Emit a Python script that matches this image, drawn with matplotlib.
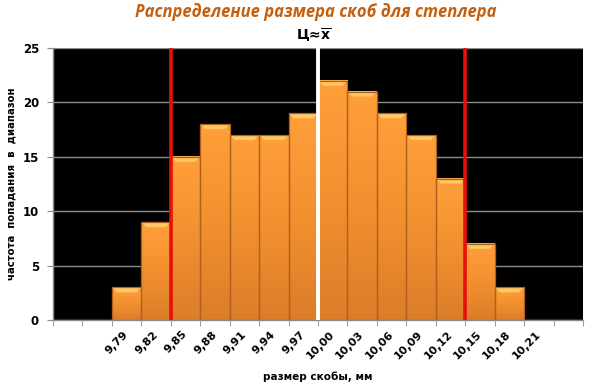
import numpy as np
import matplotlib
matplotlib.use("Agg")
import matplotlib.pyplot as plt
from matplotlib.patches import Polygon
from matplotlib.colors import LinearSegmentedColormap

# data
categories = ["", "", "9,79", "9,82", "9,85", "9,88", "9,91", "9,94", "9,97",
              "10,00", "10,03", "10,06", "10,09", "10,12", "10,15", "10,18",
              "10,21", ""]
counts = [0, 0, 3, 9, 15, 18, 17, 17, 19, 22, 21, 19, 17, 13, 7, 3, 0, 0]
limits = [4, 14]     # tolerance lines (bin boundaries)
center_line = 9      # nominal size line

plt.rcParams['font.family'] = ['DejaVu Sans']

fig = plt.figure(figsize=(5.98, 3.85), dpi=100)
ax = fig.add_axes([53/598, 1 - 320/385, 530/598, 272/385])
ax.set_facecolor('black')

n = len(categories)
x = np.arange(n)

# gridlines
ax.set_yticks(np.arange(0, 26, 5))
ax.yaxis.grid(True, color='#8c8c8c', linewidth=1)
ax.set_axisbelow(True)

# bars with vertical gradient and bevelled top
cmap = LinearSegmentedColormap.from_list('bar', ['#dc7d2a', '#f2902f', '#ff9f3a'])
grad = np.linspace(0, 1, 64).reshape(-1, 1)
dy = 5 * 25 / 272
dx = 5 / (530 / n)
for xi, h in zip(x, counts):
    if h == 0:
        continue
    ax.imshow(grad, extent=[xi, xi + 1, 0, h], origin='lower', aspect='auto',
              cmap=cmap, zorder=2)
    ax.add_patch(Polygon([(xi, h), (xi + 1, h), (xi + 1 - dx, h - dy), (xi + dx, h - dy)],
                         closed=True, facecolor='#ffc866', edgecolor='none', zorder=3))
    ax.bar(xi + 0.5, h, width=1.0, facecolor='none', edgecolor='#b0601c',
           linewidth=0.9, zorder=4)

# vertical lines
for lim in limits:
    ax.axvline(lim, color='#e8100c', linewidth=2.6, zorder=5)
ax.axvline(center_line, color='white', linewidth=2.8, zorder=5)

ax.set_xlim(0, n)
ax.set_ylim(0, 25)

# axes styling
for s in ['top', 'right']:
    ax.spines[s].set_visible(False)
for s in ['left', 'bottom']:
    ax.spines[s].set_color('#8c8c8c')
    ax.spines[s].set_linewidth(1)

ax.set_xticks(x + 0.5)
ax.set_xticklabels(categories, rotation=45, ha='right', va='center',
                   rotation_mode='anchor', fontsize=8, fontweight='bold')
ax.tick_params(axis='x', which='major', length=0, pad=9)
ax.set_xticks(np.arange(n + 1), minor=True)
ax.tick_params(axis='x', which='minor', length=4, color='#8c8c8c', direction='out')
ax.tick_params(axis='y', length=4, color='#8c8c8c', labelsize=8.5, pad=6)
for lab in ax.get_yticklabels():
    lab.set_fontweight('bold')

ax.set_ylabel('частота  попадания  в  диапазон', fontsize=7.3, fontweight='bold')
ax.yaxis.set_label_coords(-36/530, 0.5)
ax.set_xlabel('размер скобы, мм', fontsize=7.5, fontweight='bold', va='center')
ax.xaxis.set_label_coords(0.5, -57/272)

fig.text(316/598, 1 - 12/385, 'Распределение размера скоб для степлера',
         ha='center', va='center', fontsize=12, fontweight='bold', style='italic',
         color='#c5600f', family=['Open Sans', 'DejaVu Sans'])
ax.text(center_line - 0.15, 25 + 13 * 25 / 272, r'Ц≈$\overline{\mathbf{x}}$',
        ha='center', va='center', fontsize=10, fontweight='bold')

fig.savefig('out.png', dpi=100, facecolor='white')
